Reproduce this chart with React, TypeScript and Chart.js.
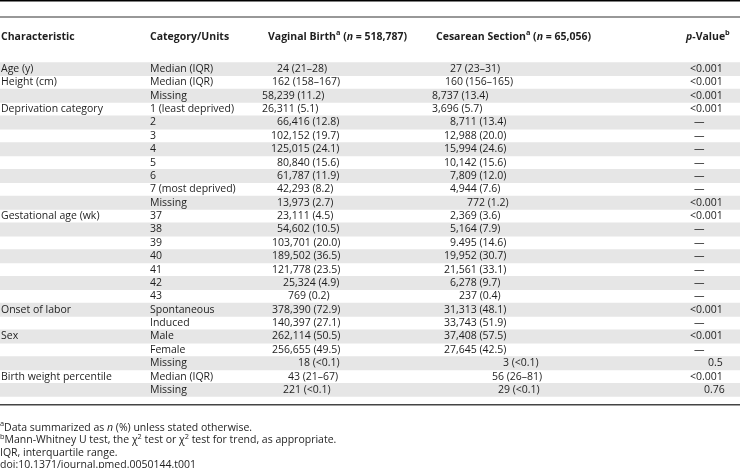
import React, { useEffect, useRef } from "react";
import { Chart, registerables } from "chart.js";

Chart.register(...registerables);

// ---------- DATA ----------
const characteristics = [
  "Age (y)", "Height (cm)", "", "Deprivation category", "", "", "", "", "", "", "",
  "Gestational age (wk)", "", "", "", "", "", "", "Onset of labor", "", "Sex", "", "",
  "Birth weight percentile", "",
];
const categories = [
  "Median (IQR)", "Median (IQR)", "Missing", "1 (least deprived)", "2", "3", "4", "5", "6",
  "7 (most deprived)", "Missing", "37", "38", "39", "40", "41", "42", "43", "Spontaneous",
  "Induced", "Male", "Female", "Missing", "Median (IQR)", "Missing",
];
const vaginal = [
  "24 (21–28)", "162 (158–167)", "58,239 (11.2)", "26,311 (5.1)", "66,416 (12.8)",
  "102,152 (19.7)", "125,015 (24.1)", "80,840 (15.6)", "61,787 (11.9)", "42,293 (8.2)",
  "13,973 (2.7)", "23,111 (4.5)", "54,602 (10.5)", "103,701 (20.0)", "189,502 (36.5)",
  "121,778 (23.5)", "25,324 (4.9)", "769 (0.2)", "378,390 (72.9)", "140,397 (27.1)",
  "262,114 (50.5)", "256,655 (49.5)", "18 (<0.1)", "43 (21–67)", "221 (<0.1)",
];
const cesarean = [
  "27 (23–31)", "160 (156–165)", "8,737 (13.4)", "3,696 (5.7)", "8,711 (13.4)",
  "12,988 (20.0)", "15,994 (24.6)", "10,142 (15.6)", "7,809 (12.0)", "4,944 (7.6)",
  "772 (1.2)", "2,369 (3.6)", "5,164 (7.9)", "9.495 (14.6)", "19,952 (30.7)",
  "21,561 (33.1)", "6,278 (9.7)", "237 (0.4)", "31,313 (48.1)", "33,743 (51.9)",
  "37,408 (57.5)", "27,645 (42.5)", "3 (<0.1)", "56 (26–81)", "29 (<0.1)",
];
const pValues = [
  "<0.001", "<0.001", "<0.001", "<0.001", "—", "—", "—", "—", "—", "—", "<0.001",
  "<0.001", "—", "—", "—", "—", "—", "—", "<0.001", "—", "<0.001", "—", "0.5",
  "<0.001", "0.76",
];
const footnotes = [
  "Data summarized as n (%) unless stated otherwise.",
  "Mann-Whitney U test, the χ2 test or χ2 test for trend, as appropriate.",
  "IQR, interquartile range.",
  "doi:10.1371/journal.pmed.0050144.t001",
];

// ---------- LAYOUT (kept apart from data) ----------
const W = 740;
const H = 468;
const FONT = '"Open Sans", "Noto Sans", sans-serif';
const FS = 10.5;
const TEXT = "#1e1e1e";
const STRIPE = "#e6e6e6";
const vaginalLeft = [277, 272, 262, 262, 277, 271, 271, 277, 277, 277, 277, 277, 277, 272, 272, 272, 283, 288, 272, 272, 272, 272, 298, 288, 283];
const cesareanLeft = [450, 445, 432, 432, 450, 444, 444, 444, 450, 450, 467, 450, 450, 450, 444, 444, 450, 459, 444, 444, 444, 444, 503, 492, 498];

type Run = { t: string; b?: boolean; i?: boolean; sup?: boolean };

function font(r: Run, size: number) {
  return `${r.i ? "italic " : ""}${r.b ? "bold " : ""}${size}px ${FONT}`;
}

function drawRuns(ctx: CanvasRenderingContext2D, x: number, y: number, runs: Run[], size = FS) {
  let cx = x;
  for (const r of runs) {
    const s = r.sup ? size * 0.7 : size;
    ctx.font = font(r, s);
    ctx.fillText(r.t, cx, r.sup ? y - size * 0.35 : y);
    cx += ctx.measureText(r.t).width;
  }
}

function pLeft(v: string) {
  if (v === "—") return 694;
  if (v === "0.5") return 708;
  if (v === "0.76") return 704;
  return 690;
}

const tablePlugin = {
  id: "tableText",
  afterDatasetsDraw(chart: any) {
    const ctx: CanvasRenderingContext2D = chart.ctx;
    const y = chart.scales.y;
    ctx.save();
    ctx.textBaseline = "middle";
    ctx.textAlign = "left";

    // rules
    ctx.fillStyle = "#000";
    ctx.fillRect(0, 0, W, 1.5);
    ctx.fillStyle = "#333";
    ctx.fillRect(0, 16.5, W, 1);
    ctx.fillStyle = "#444";
    ctx.fillRect(0, 404, W, 1.5);

    // header
    ctx.fillStyle = TEXT;
    const hy = 37;
    drawRuns(ctx, 1, hy, [{ t: "Characteristic", b: true }]);
    drawRuns(ctx, 150, hy, [{ t: "Category/Units", b: true }]);
    drawRuns(ctx, 268, hy, [
      { t: "Vaginal Birth", b: true }, { t: "a", b: true, sup: true }, { t: " (", b: true },
      { t: "n", b: true, i: true }, { t: " = 518,787)", b: true },
    ]);
    drawRuns(ctx, 436, hy, [
      { t: "Cesarean Section", b: true }, { t: "a", b: true, sup: true }, { t: " (", b: true },
      { t: "n", b: true, i: true }, { t: " = 65,056)", b: true },
    ]);
    drawRuns(ctx, 686, hy, [
      { t: "p", b: true, i: true }, { t: "-Value", b: true }, { t: "b", b: true, sup: true },
    ]);

    // body rows
    categories.forEach((cat, i) => {
      const py = y.getPixelForValue(i);
      ctx.font = `${FS}px ${FONT}`;
      if (characteristics[i]) ctx.fillText(characteristics[i], 1, py);
      ctx.fillText(cat, 150, py);
      ctx.fillText(vaginal[i], vaginalLeft[i], py);
      ctx.fillText(cesarean[i], cesareanLeft[i], py);
      ctx.fillText(pValues[i], pLeft(pValues[i]), py);
    });

    // footnotes
    const fy = [428, 440.5, 453, 465];
    drawRuns(ctx, 0, fy[0], [
      { t: "a", sup: true }, { t: "Data summarized as " }, { t: "n", i: true },
      { t: " (%) unless stated otherwise." },
    ]);
    drawRuns(ctx, 0, fy[1], [
      { t: "b", sup: true }, { t: "Mann-Whitney U test, the χ" }, { t: "2", sup: true },
      { t: " test or χ" }, { t: "2", sup: true }, { t: " test for trend, as appropriate." },
    ]);
    drawRuns(ctx, 0, fy[2], [{ t: footnotes[2] }]);
    drawRuns(ctx, 0, fy[3], [{ t: footnotes[3] }]);
    ctx.restore();
  },
};

export default function App() {
  const ref = useRef<HTMLCanvasElement | null>(null);
  useEffect(() => {
    if (!ref.current) return;
    const labels = categories.map((_, i) => String(i));
    const chart = new Chart(ref.current, {
      type: "bar",
      data: {
        labels,
        datasets: [
          {
            data: labels.map((_, i) => (i % 2 === 0 ? [0, W] : null)) as any,
            backgroundColor: STRIPE,
            borderWidth: 0,
            barPercentage: 1,
            categoryPercentage: 1,
          },
        ],
      },
      options: {
        indexAxis: "y",
        responsive: false,
        animation: false,
        events: [],
        devicePixelRatio: 1,
        layout: { padding: { top: 62.3, bottom: H - 396.7, left: 0, right: 0 } },
        scales: {
          x: { type: "linear", min: 0, max: W, display: false },
          y: { type: "category", display: false, offset: true },
        },
        plugins: { legend: { display: false }, tooltip: { enabled: false } },
      },
      plugins: [tablePlugin],
    });
    return () => chart.destroy();
  }, []);
  return (
    <div style={{ position: "absolute", left: 0, top: 0, width: W, height: H, background: "#fff" }}>
      <canvas ref={ref} width={W} height={H} style={{ display: "block", width: W, height: H }} />
    </div>
  );
}
